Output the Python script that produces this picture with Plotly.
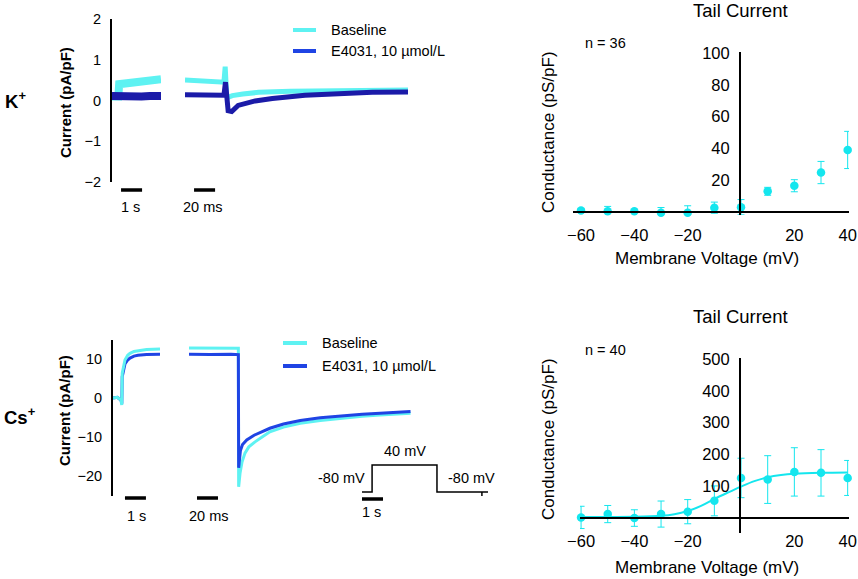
import plotly.graph_objects as go

W, H = 858, 579


def fx(px):
    return px / W


def fy(py):
    return 1 - py / H


CYAN = "#5ef2f2"
BLUE = "#1f44e4"
NAVY = "#1b1ba8"
DOT = "#14e6ee"
FONT = "Liberation Sans, Arial, sans-serif"

# ---- K+ recordings (pA/pF) ----
# 1 s window, time in s
k_fast_t = [0, 0.30, 0.34, 0.6, 1.0, 1.4, 1.8, 2.1, 2.33]
k_fast_base = [0.10, 0.10, 0.40, 0.41, 0.43, 0.46, 0.48, 0.51, 0.52]
k_fast_e4031 = [0.11, 0.10, 0.11, 0.12, 0.11, 0.10, 0.11, 0.11, 0.11]
# tail window, time in ms
k_tail_t_base = [0, 15, 30, 37, 38.2, 38.8, 39.6, 41, 45, 55, 70, 100, 150, 212]
k_tail_base = [0.50, 0.48, 0.46, 0.45, 0.83, 0.45, 0.12, 0.08, 0.12, 0.16, 0.20, 0.23, 0.25, 0.26]
k_tail_t_e4031 = [0, 15, 30, 37, 38.5, 39.5, 41, 44.4, 50.5, 66.7, 83, 114, 146, 178, 212]
k_tail_e4031 = [0.14, 0.13, 0.14, 0.13, 0.45, 0.0, -0.25, -0.27, -0.12, -0.01, 0.05, 0.13, 0.17, 0.20, 0.21]

# ---- Cs+ recordings (pA/pF) ----
cs_fast_t = [0, 0.2, 0.38, 0.42, 0.44, 0.5, 0.57, 0.7, 0.81, 1.0, 1.19, 1.6, 2.24]
cs_fast_base = [0.0, 0.2, -0.5, -1.8, 6.4, 8.5, 9.8, 11.0, 11.5, 12.0, 12.2, 12.5, 12.6]
cs_fast_e4031 = [0.0, 0.2, -0.5, -1.5, 5.5, 7.5, 8.8, 9.8, 10.3, 10.8, 11.0, 11.2, 11.3]
cs_tail_t_base = [0, 20, 40, 47.0, 47.3, 48.6, 50.5, 53.3, 57, 62.9, 70, 77, 90, 106, 125, 144, 165, 182, 211]
cs_tail_base = [12.9, 12.9, 12.8, 12.8, -22.9, -19.4, -16.5, -14.2, -12.6, -11.3, -10.0, -8.7,
                -7.5, -6.5, -5.8, -5.2, -4.7, -4.4, -3.9]
cs_tail_t_e4031 = [0, 20, 40, 47.0, 47.3, 48.0, 49.0, 51, 55, 62, 70, 77, 90, 106, 125, 144, 165, 182, 211]
cs_tail_e4031 = [11.3, 11.2, 11.3, 11.2, -18.0, -15.5, -13.5, -12.0, -10.8, -9.6, -8.6, -7.8,
                 -6.7, -5.8, -5.1, -4.6, -4.2, -3.9, -3.5]

# voltage protocol (s, mV)
prot_t = [0, 0.48, 0.48, 3.57, 3.57, 6.0]
prot_v = [-80, -80, 40, 40, -80, -80]
prot_tick_t = [5.71, 5.71]
prot_tick_v = [-80, -98]

# ---- tail current conductance ----
volts = [-60, -50, -40, -30, -20, -10, 0, 10, 20, 30, 40]
k_g = [1, 0.5, 0.5, -0.5, -0.5, 2.7, 3, 13, 16.5, 24.8, 39]
k_err = [1, 3, 0.8, 3.3, 4.4, 3.5, 4.8, 2.5, 3.8, 7, 11.7]
cs_g = [2, 12.5, 0, 12.5, 20, 54, 126, 121, 145, 142, 126]
cs_err = [35, 27, 26, 41, 38, 47, 62, 75, 76, 73, 55]
fit_v = [-60, -50, -40, -30, -25, -20, -15, -10, -5, 0, 5, 10, 15, 20, 30, 40]
fit_g = [3, 3.5, 4, 7, 12, 22, 38, 60, 80, 99, 116, 128, 135, 139, 142, 143]

legend_names = ["Baseline", "E4031, 10 µmol/L"]

fig = go.Figure()


def line(x, y, xa, ya, color, width):
    fig.add_trace(go.Scatter(x=x, y=y, xaxis=xa, yaxis=ya, mode="lines",
                             line=dict(color=color, width=width),
                             showlegend=False, hoverinfo="skip"))


# K+ traces
line(k_fast_t, k_fast_base, "x", "y", CYAN, 8)
line(k_fast_t, k_fast_e4031, "x", "y", NAVY, 8)
line(k_tail_t_base, k_tail_base, "x2", "y", CYAN, 5)
line(k_tail_t_e4031, k_tail_e4031, "x2", "y", NAVY, 5)

# Cs+ traces
line(cs_fast_t, cs_fast_e4031, "x3", "y2", BLUE, 3)
line(cs_fast_t, cs_fast_base, "x3", "y2", CYAN, 3)
line(cs_tail_t_base, cs_tail_base, "x4", "y2", CYAN, 3)
line(cs_tail_t_e4031, cs_tail_e4031, "x4", "y2", BLUE, 3)

# protocol
line(prot_t, prot_v, "x5", "y3", "black", 1.5)
line(prot_tick_t, prot_tick_v, "x5", "y3", "black", 1.5)

# conductance panels
fig.add_trace(go.Scatter(x=volts, y=k_g, xaxis="x6", yaxis="y4", mode="markers",
                         marker=dict(color=DOT, size=8.5),
                         error_y=dict(type="data", array=k_err, color=DOT, thickness=1, width=3.5),
                         cliponaxis=False, showlegend=False))
fig.add_trace(go.Scatter(x=fit_v, y=fit_g, xaxis="x7", yaxis="y5", mode="lines",
                         line=dict(color=DOT, width=2, shape="spline"), showlegend=False))
fig.add_trace(go.Scatter(x=volts, y=cs_g, xaxis="x7", yaxis="y5", mode="markers",
                         marker=dict(color=DOT, size=8.5),
                         error_y=dict(type="data", array=cs_err, color=DOT, thickness=1, width=3.5),
                         cliponaxis=False, showlegend=False))

hidden = dict(visible=False, showgrid=False, zeroline=False)
yleft = dict(showline=True, linecolor="black", linewidth=2, showgrid=False, zeroline=False,
             ticks="", tickfont=dict(size=14.5, color="black"), ticklabelstandoff=6)
right_ax = dict(showline=True, linecolor="black", linewidth=2, showgrid=False, zeroline=False,
                ticks="", tickfont=dict(size=16.5, color="black"))

fig.update_layout(
    width=W, height=H, margin=dict(l=0, r=0, t=0, b=0, pad=0, autoexpand=False),
    paper_bgcolor="white", plot_bgcolor="white",
    font=dict(family=FONT, color="black"),
    showlegend=False,
    xaxis=dict(domain=[fx(112), fx(161)], range=[0, 2.33], anchor="y", **hidden),
    xaxis2=dict(domain=[fx(185), fx(408)], range=[0, 212], anchor="y", **hidden),
    yaxis=dict(domain=[fy(182), fy(19)], range=[-2, 2], tickvals=[-2, -1, 0, 1, 2], anchor="x", **yleft),
    xaxis3=dict(domain=[fx(113), fx(160)], range=[0, 2.24], anchor="y2", **hidden),
    xaxis4=dict(domain=[fx(189), fx(412)], range=[0, 212.4], anchor="y2", **hidden),
    yaxis2=dict(domain=[fy(496), fy(340)], range=[-25.26, 14.95], tickvals=[-20, -10, 0, 10],
                anchor="x3", **yleft),
    xaxis5=dict(domain=[fx(362), fx(488)], range=[0, 6], anchor="y3", **hidden),
    yaxis3=dict(domain=[fy(500), fy(455)], range=[-115.6, 84.4], anchor="x5", **hidden),
    xaxis6=dict(domain=[fx(573), fx(849)], range=[-63, 40.5], anchor="free", position=fy(212),
                tickvals=[-60, -40, -20, 20, 40], ticklabelstandoff=8, **right_ax),
    yaxis4=dict(domain=[fy(215), fy(52)], range=[-1.9, 100.6], anchor="free", position=fx(740),
                tickvals=[20, 40, 60, 80, 100], ticklabelstandoff=6, **right_ax),
    xaxis7=dict(domain=[fx(580), fx(849)], range=[-60.4, 40.5], anchor="free", position=fy(518),
                tickvals=[-60, -40, -20, 20, 40], ticklabelstandoff=8, **right_ax),
    yaxis5=dict(domain=[fy(533), fy(358)], range=[-47, 503], anchor="free", position=fx(740),
                tickvals=[100, 200, 300, 400, 500], ticklabelstandoff=6, **right_ax),
)

shapes = []


def bar(xref, x0, x1, py, color="black", width=3.5):
    shapes.append(dict(type="line", xref=xref, yref="paper", x0=x0, x1=x1, y0=fy(py), y1=fy(py),
                       line=dict(color=color, width=width)))


# time scale bars
bar("x", 0.43, 1.43, 190)
bar("x2", 8.6, 28.6, 190)
bar("x3", 0.57, 1.57, 498)
bar("x4", 7.6, 27.6, 498)
bar("x5", 0, 1, 499)
# legend keys
bar("paper", fx(293), fx(316), 30, CYAN, 4)
bar("paper", fx(293), fx(316), 51, BLUE, 4)
bar("paper", fx(283), fx(307), 343, CYAN, 4)
bar("paper", fx(283), fx(307), 366, BLUE, 4)
fig.update_layout(shapes=shapes)

ann = []


def text(s, px, py, size, xanchor="center", angle=0):
    ann.append(dict(text=s, x=fx(px), y=fy(py), xref="paper", yref="paper", showarrow=False,
                    xanchor=xanchor, yanchor="middle", textangle=angle,
                    font=dict(size=size, family=FONT, color="black")))


text("<b>K<sup>+</sup></b>", 3, 100, 18.5, "left")
text("<b>Cs<sup>+</sup></b>", 2, 416, 18.5, "left")
text("<b>Current (pA/pF)</b>", 65, 103, 15, angle=-90)
text("<b>Current (pA/pF)</b>", 64, 411, 15, angle=-90)
text("1 s", 130.5, 206.5, 14.5)
text("20 ms", 203, 206.5, 14.5)
text("1 s", 136.5, 516, 14.5)
text("20 ms", 209, 516, 14.5)
text("1 s", 371.5, 511.5, 14.5)
text("40 mV", 405, 451, 14.5)
text("-80 mV", 341.5, 478, 14.5)
text("-80 mV", 471, 478, 14.5)
text(legend_names[0], 329, 30, 14.5, "left")
text(legend_names[1], 329, 51, 14.5, "left")
text(legend_names[0], 320, 343, 14.5, "left")
text(legend_names[1], 320, 366, 14.5, "left")
text("Tail Current", 740, 10, 18.5)
text("Tail Current", 740, 316, 18.5)
text("n = 36", 583, 43, 14.5, "left")
text("n = 40", 583, 350, 14.5, "left")
text("Conductance (pS/pF)", 548, 132, 17, angle=-90)
text("Conductance (pS/pF)", 548, 439, 17, angle=-90)
text("Membrane Voltage (mV)", 707, 258, 17)
text("Membrane Voltage (mV)", 707, 567, 17)
fig.update_layout(annotations=ann)

fig.write_html("out.html", config={"displayModeBar": False},
               post_script="document.body.style.margin='0';document.body.style.overflow='hidden';")
